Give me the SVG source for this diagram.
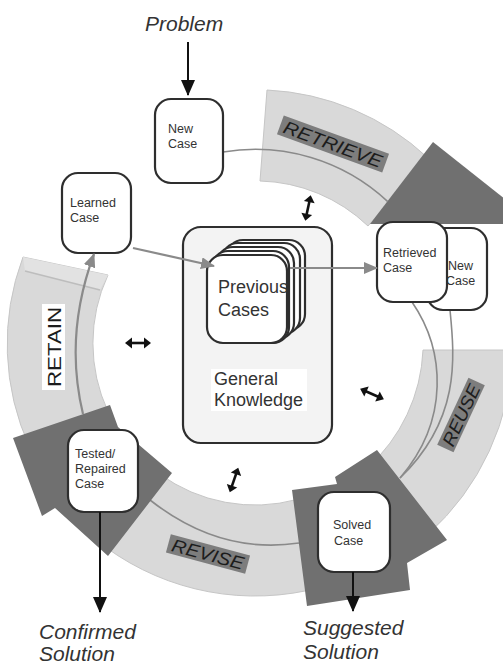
<svg xmlns="http://www.w3.org/2000/svg" width="503" height="667" viewBox="0 0 503 667">
<style>
  .band{fill:#d9d9d9;stroke:#c6c6c6;stroke-width:1}
  .dark{fill:#707070}
  .lbl{fill:#7d7d7d}
  .phase{font-family:"Liberation Sans",Arial,sans-serif;font-size:18px;fill:#1c1c1c}
  .box{fill:#fff;stroke:#2e2e2e;stroke-width:2.2}
  .small{font-family:"Liberation Sans",Arial,sans-serif;font-size:12.5px;fill:#333}
  .big{font-family:"Liberation Sans",Arial,sans-serif;font-size:18px;fill:#333}
  .io{font-family:"Liberation Sans",Arial,sans-serif;font-size:21px;font-style:italic;fill:#333}
  .thin{fill:none;stroke:#8a8a8a;stroke-width:1.6}
  .garrow{fill:none;stroke:#8a8a8a;stroke-width:2.2}
  .barrow{fill:none;stroke:#111;stroke-width:2}
</style>
<defs>
  <marker id="gHead" markerUnits="userSpaceOnUse" markerWidth="14" markerHeight="12" refX="13" refY="6" orient="auto">
    <path d="M0,0 L14,6 L0,12 z" fill="#8a8a8a"/>
  </marker>
  <marker id="bHead" markerUnits="userSpaceOnUse" markerWidth="16" markerHeight="14" refX="15" refY="7" orient="auto">
    <path d="M0,0 L16,7 L0,14 z" fill="#111"/>
  </marker>
  <g id="dbl">
    <line x1="-8" y1="0" x2="8" y2="0" stroke="#111" stroke-width="2.6"/>
    <polygon points="-13,0 -6,-5.5 -6,5.5" fill="#111"/>
    <polygon points="13,0 6,-5.5 6,5.5" fill="#111"/>
  </g>
</defs>

<g id="bands">
  <path class="band" d="M267,90 A253,253 0 0 1 428,158 L368,226 A162,162 0 0 0 260,181 Z"/>
  <path class="band" d="M423,350 L513,350 A258,258 0 0 1 427.6,534.7 L367.4,467.8 A168,168 0 0 0 423,350 Z"/>
  <path class="band" d="M320.5,587.4 A253,253 0 0 1 106.3,547.7 L159.8,474.1 A162,162 0 0 0 296.9,499.5 Z"/>
  <path class="band" d="M23,257 L108,275 A162,162 0 0 0 108,411.5 L30,448 A248,248 0 0 1 23,257 Z"/>
  <polygon points="23,257 108,275 100,290 25,271" fill="#e2e2e2"/>
  <line x1="25" y1="271" x2="100" y2="290" stroke="#bdbdbd" stroke-width="1.5"/>
</g>

<g id="arcs">
  <path class="thin" d="M223,152 A194,194 0 0 1 387.5,201.3"/>
  <path class="thin" d="M412,302 C445,350 450,420 400,478"/>
  <path class="thin" d="M450,310 C455,360 460,420 400,478"/>
  <path class="thin" d="M299,543 Q220,555 150,500"/>
</g>

<g id="heads">
  <polygon class="dark" points="433,142 510,203 510,224 370,224"/>
  <polygon class="dark" points="292,490 337,484 335,477 377,450 447,540 407,563 410,590 307,606"/>
  <polygon class="dark" points="13,438 110,405 118,427 172,473 108,556 55,508 42,516"/>
</g>

<g id="phase-labels">
  <g id="retrieve-label" transform="translate(333,144) rotate(20)">
    <rect class="lbl" x="-56" y="-10" width="112" height="20"/>
    <text class="phase" x="0" y="6.5" text-anchor="middle" font-style="italic" textLength="104" lengthAdjust="spacingAndGlyphs">RETRIEVE</text>
  </g>
  <g id="reuse-label" transform="translate(461,415) rotate(-65)">
    <rect class="lbl" x="-37" y="-9" width="74" height="18"/>
    <text class="phase" x="0" y="6.5" text-anchor="middle" font-style="italic" textLength="66" lengthAdjust="spacingAndGlyphs">REUSE</text>
  </g>
  <g id="revise-label" transform="translate(208,554) rotate(15)">
    <rect class="lbl" x="-41" y="-9.5" width="82" height="19"/>
    <text class="phase" x="0" y="6.5" text-anchor="middle" font-style="italic" textLength="74" lengthAdjust="spacingAndGlyphs">REVISE</text>
  </g>
  <g id="retain-label" transform="translate(53,347) rotate(-90)">
    <rect x="-43" y="-11" width="86" height="23" fill="#fff"/>
    <text class="phase" x="0" y="7.5" text-anchor="middle" font-size="21" textLength="80" lengthAdjust="spacingAndGlyphs">RETAIN</text>
  </g>
</g>

<g id="general-knowledge">
  <rect x="183" y="227" width="149" height="216" rx="18" fill="#f3f3f3" stroke="#2e2e2e" stroke-width="2.2"/>
  <rect x="211" y="369" width="96" height="42" fill="#fff"/>
  <text class="big" x="214" y="385">General</text>
  <text class="big" x="214" y="406">Knowledge</text>
</g>

<g id="previous-cases">
  <rect class="box" x="227" y="240" width="78" height="90" rx="16" stroke-width="1.6"/>
  <rect class="box" x="222" y="243" width="78" height="91" rx="16" stroke-width="1.6"/>
  <rect class="box" x="217" y="247" width="77" height="92" rx="16" stroke-width="1.6"/>
  <rect class="box" x="212" y="251" width="77" height="92" rx="16" stroke-width="1.6"/>
  <rect class="box" x="207" y="255" width="80" height="88" rx="16" stroke-width="1.8"/>
  <text class="big" x="218" y="293">Previous</text>
  <text class="big" x="218" y="316">Cases</text>
</g>

<g id="new-case">
  <rect class="box" x="155" y="99" width="68" height="84" rx="16"/>
  <text class="small" x="168" y="133">New</text>
  <text class="small" x="168" y="148">Case</text>
</g>

<g id="learned-case">
  <rect class="box" x="62" y="173" width="69" height="80" rx="16"/>
  <text class="small" x="70" y="207">Learned</text>
  <text class="small" x="70" y="222">Case</text>
</g>

<g id="new-case-2">
  <rect class="box" x="427" y="228" width="60" height="82" rx="16"/>
  <text class="small" x="448" y="270">New</text>
  <text class="small" x="446" y="285">Case</text>
</g>

<g id="retrieved-case">
  <rect class="box" x="377" y="222" width="70" height="80" rx="16"/>
  <text class="small" x="383" y="257">Retrieved</text>
  <text class="small" x="383" y="272">Case</text>
</g>

<g id="solved-case">
  <rect class="box" x="318" y="492" width="72" height="80" rx="16"/>
  <text class="small" x="333" y="529">Solved</text>
  <text class="small" x="334" y="545">Case</text>
</g>

<g id="tested-case">
  <rect class="box" x="68" y="430" width="70" height="82" rx="16"/>
  <text class="small" x="75" y="458">Tested/</text>
  <text class="small" x="75" y="473">Repaired</text>
  <text class="small" x="75" y="488">Case</text>
</g>

<g id="problem">
  <text class="io" x="145" y="31">Problem</text>
</g>
<g id="suggested-solution">
  <text class="io" x="303" y="635">Suggested</text>
  <text class="io" x="303" y="659">Solution</text>
</g>
<g id="confirmed-solution">
  <text class="io" x="39" y="639">Confirmed</text>
  <text class="io" x="39" y="661">Solution</text>
</g>

<g id="connectors">
  <line class="barrow" x1="188" y1="42" x2="188" y2="95" marker-end="url(#bHead)"/>
  <line class="barrow" x1="353" y1="572" x2="353" y2="611" marker-end="url(#bHead)"/>
  <line class="barrow" x1="100" y1="512" x2="100" y2="612" marker-end="url(#bHead)"/>
  <line class="garrow" x1="133" y1="248" x2="214" y2="266" marker-end="url(#gHead)"/>
  <line class="garrow" x1="290" y1="268" x2="377" y2="268" marker-end="url(#gHead)"/>
  <path class="garrow" d="M83,414 Q64,335 94,254" marker-end="url(#gHead)"/>
  <use href="#dbl" transform="translate(138,343)"/>
  <use href="#dbl" transform="translate(308,208) rotate(102)"/>
  <use href="#dbl" transform="translate(372,394) rotate(24)"/>
  <use href="#dbl" transform="translate(234,480) rotate(109)"/>
</g>
</svg>
